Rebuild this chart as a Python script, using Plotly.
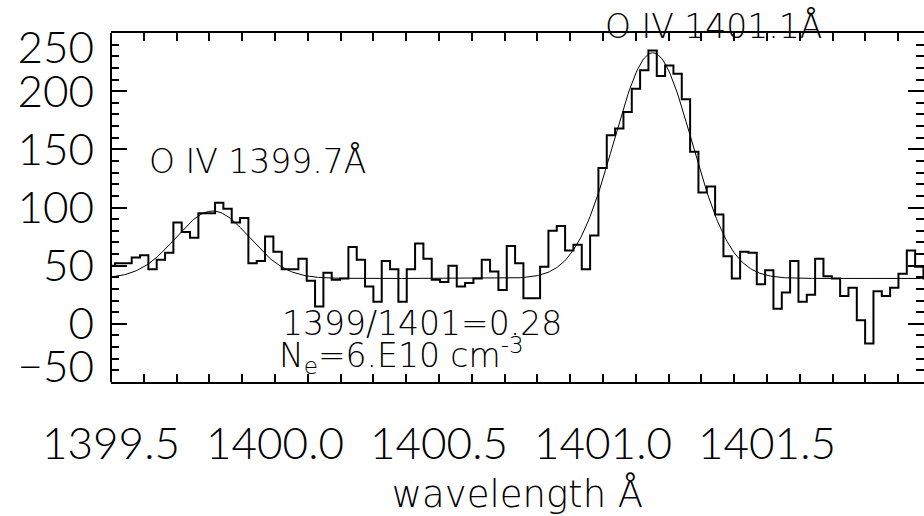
import numpy as np
import plotly.graph_objects as go

# Binned O IV spectrum (counts per bin) on a regular wavelength grid
bin_start = 1399.4996      # centre of first bin (Å)
bin_width = 0.02541        # Å per bin
counts = [
    50, 52, 52, 57, 59, 47, 55, 61, 87, 79,
    74, 95, 95, 104, 99, 87, 91, 52, 54, 75,
    62, 47, 47, 56, 37, 15, 44, 38, 39, 66,
    55, 32, 19, 54, 47, 19, 47, 69, 56, 38,
    36, 50, 32, 35, 39, 55, 45, 29, 67, 52,
    22, 22, 49, 80, 84, 63, 68, 47, 76, 134,
    162, 168, 182, 202, 218, 235, 213, 222, 215, 193,
    148, 113, 118, 94, 58, 39, 62, 61, 34, 46,
    13, 27, 54, 19, 25, 56, 41, 39, 24, 31,
    3, -17, 28, 24, 31, 43, 63, 49, 39,
]
wavelength = bin_start + bin_width * np.arange(len(counts))

# Double-Gaussian fit on a constant background
background = 39.0
line_centres = [1399.81, 1401.152]
line_amps = [58.0, 194.0]
line_sigmas = [0.112, 0.119]

x_range = [1399.5, 1401.9787]
y_range = [-50, 250]
x_ticks = [1399.5, 1400.0, 1400.5, 1401.0, 1401.5]
y_ticks = [-50, 0, 50, 100, 150, 200, 250]

fit_x = np.linspace(x_range[0], x_range[1], 600)
fit_y = np.full_like(fit_x, background)
for c, a, s in zip(line_centres, line_amps, line_sigmas):
    fit_y += a * np.exp(-0.5 * ((fit_x - c) / s) ** 2)

TICK_FONT = dict(family="Lato", size=44, color="black", weight=300)
TEXT_FONT = dict(family="DejaVu Sans", size=33, color="black", weight=200)

fig = go.Figure()
fig.add_trace(go.Scatter(
    x=wavelength, y=counts, mode="lines", line_shape="hvh",
    line=dict(color="black", width=2), showlegend=False, hoverinfo="skip",
))
fig.add_trace(go.Scatter(
    x=fit_x, y=fit_y, mode="lines",
    line=dict(color="black", width=1), showlegend=False, hoverinfo="skip",
))
# empty traces that carry the extra label axes
fig.add_trace(go.Scatter(x=[], y=[], yaxis="y2", showlegend=False))
fig.add_trace(go.Scatter(x=[], y=[], yaxis="y3", showlegend=False))

tick_common = dict(
    mirror="allticks", ticks="inside", tickcolor="black", tickwidth=1.5,
    showgrid=False, zeroline=False, tickfont=TICK_FONT,
)

fig.update_layout(
    width=924, height=516,
    margin=dict(l=111, r=0, t=33, b=134),
    paper_bgcolor="white", plot_bgcolor="white",
    xaxis=dict(
        range=x_range, tickmode="array", tickvals=x_ticks,
        ticktext=[f"{v:.1f}" for v in x_ticks], ticklen=8,
        showline=True, linewidth=2, linecolor="black",
        minor=dict(tickmode="linear", tick0=1399.5, dtick=0.1, ticks="inside",
                   ticklen=4, tickwidth=1.5, tickcolor="black"),
        ticklabelstandoff=22,
        title=dict(text="wavelength Å", font=dict(family="DejaVu Sans", size=37,
                                                  color="black", weight=200),
                   standoff=18),
        **tick_common,
    ),
    yaxis=dict(
        range=y_range, tickmode="array", tickvals=y_ticks,
        ticktext=["" if v in (y_ticks[0], y_ticks[-1]) else str(v) for v in y_ticks],
        ticklen=16, showline=False,
        minor=dict(tickmode="linear", tick0=-50, dtick=10, ticks="inside",
                   ticklen=8, tickwidth=1.5, tickcolor="black"),
        ticklabelstandoff=16,
        **tick_common,
    ),
    yaxis2=dict(
        overlaying="y", anchor="x", side="left", range=y_range,
        tickmode="array", tickvals=[y_ticks[-1]], ticktext=[str(y_ticks[-1])],
        ticklabelshift=15, ticks="", showline=False,
        showgrid=False, zeroline=False, tickfont=TICK_FONT, ticklabelstandoff=16,
    ),
    yaxis3=dict(
        overlaying="y", anchor="x", side="left", range=y_range,
        tickmode="array", tickvals=[y_ticks[0]], ticktext=["\u221250"],
        ticklabelshift=-15, ticks="", showline=False,
        showgrid=False, zeroline=False, tickfont=TICK_FONT, ticklabelstandoff=16,
    ),
    shapes=[dict(type="line", xref="paper", yref="paper", x0=0, x1=0, y0=0, y1=1,
                 line=dict(color="black", width=2), layer="above")],
)

notes = [
    ("O IV 1399.7Å", 1399.61, "y", 139.5),
    ("O IV 1401.1Å", 1401.0, "paper", 1.0186),
    ("1399/1401=0.28", 1400.015, "y", 0.0),
    ("N<sub>e</sub>=6.E10 cm<sup>-3</sup>", 1400.006, "y", -27.6),
]
for text, x, yref, y in notes:
    fig.add_annotation(text=text, x=x, y=y, xref="x", yref=yref,
                       xanchor="left", yanchor="middle", showarrow=False,
                       font=TEXT_FONT)

fig.write_html("out.html")
